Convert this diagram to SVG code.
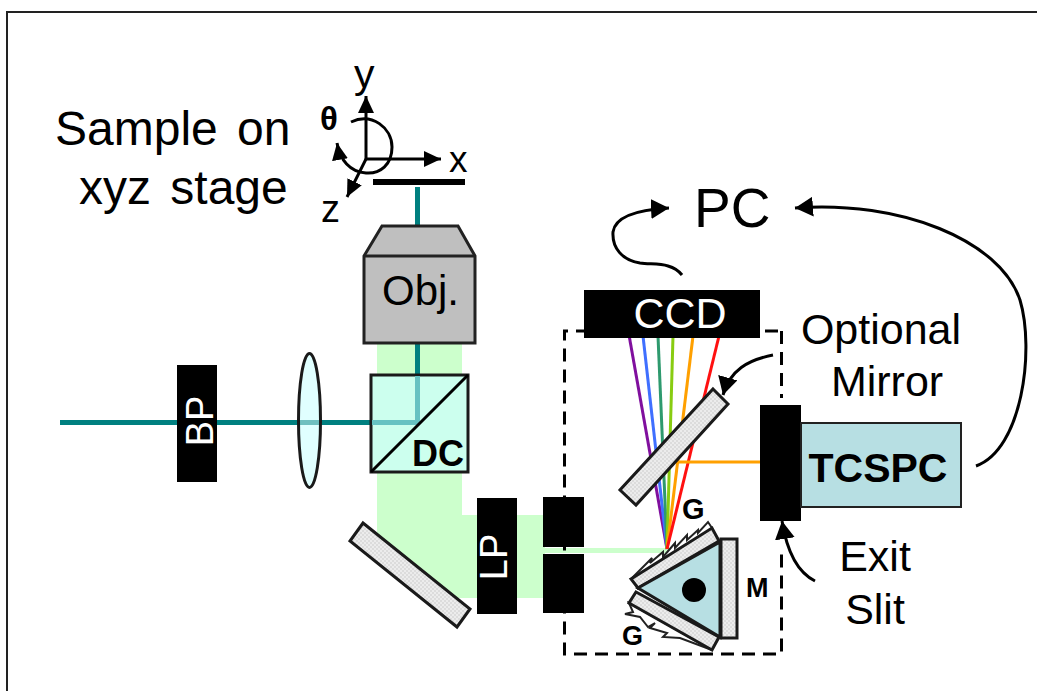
<svg xmlns="http://www.w3.org/2000/svg" width="1037" height="691" viewBox="0 0 1037 691">
<defs>
<pattern id="dots" width="4" height="4" patternUnits="userSpaceOnUse"><rect width="4" height="4" fill="#ececec"/><rect width="2" height="2" fill="#dcdcdc"/><rect x="2" y="2" width="2" height="2" fill="#dcdcdc"/></pattern>
<marker id="big" markerUnits="userSpaceOnUse" markerWidth="22" markerHeight="22" refX="18" refY="10" orient="auto"><path d="M0 0L18 10L0 20Z" fill="#000"/></marker>
<marker id="small" markerUnits="userSpaceOnUse" markerWidth="20" markerHeight="18" refX="17" refY="8" orient="auto"><path d="M0 0L17 8L0 16Z" fill="#000"/></marker>
</defs>
<style>
text{font-family:"Liberation Sans",Arial,sans-serif;fill:#000}
.lab{font-size:48px;word-spacing:6px}
.lab2{font-size:43px}
.b{font-weight:bold}
.mir{fill:url(#dots);stroke:#1a1a1a;stroke-width:3}
.blk{fill:#000}
.beam{stroke:#008080;stroke-width:5;fill:none}
.arr{fill:none;stroke:#000;stroke-width:3}
.ray{fill:none;stroke-width:3}
.teeth{fill:#fff;stroke:#222;stroke-width:2}
</style>
<rect width="1037" height="691" fill="#fff"/>
<path d="M7 691V12H1037" fill="none" stroke="#222" stroke-width="2"/>

<g id="green-beam">
<path d="M377 343H462V515H545V598H456L377 534Z" fill="#ccffcc"/>
<rect x="545" y="548" width="123" height="5" fill="#ccffcc"/>
</g>

<g id="connectors">
<path class="beam" d="M60 422.500H417.500V343"/>
<path class="beam" d="M417.500 187V226"/>
<path class="arr" d="M366 160V96" marker-end="url(#small)"/>
<path class="arr" d="M366 159H441" marker-end="url(#small)"/>
<path class="arr" d="M366 159L347 197" marker-end="url(#small)"/>
<path class="arr" d="M351 122C372 112 392 128 392 147C392 165 380 174 366 173C350 172 340 160 337 143" marker-end="url(#small)"/>
<path class="arr" d="M682 275C672 262 655 265 640 263C622 260 612 248 613 232C615 218 632 210 669 208" marker-end="url(#big)"/>
<path class="arr" d="M976 466C1022 450 1035 350 1020 300C1000 240 900 200 795 208" marker-end="url(#big)"/>
<path class="arr" d="M773 355C748 360 730 370 723 395" marker-end="url(#big)"/>
<path class="arr" d="M815 581C797 572 787 552 782 521" marker-end="url(#big)"/>
<path d="M778 331H564.500V654H781.500V553M781.500 331V398" fill="none" stroke="#000" stroke-width="3" stroke-dasharray="13 8"/>
</g>

<g id="rays">
<path class="ray" stroke="#800f9e" d="M629 335L667 549"/>
<path class="ray" stroke="#3f6fff" d="M643 336L667 549"/>
<path class="ray" stroke="#2e9a6e" d="M658 336L667 549"/>
<path class="ray" stroke="#88cc11" d="M673 336L667 549"/>
<path class="ray" stroke="#ffa000" d="M693 336L667 549"/>
<path class="ray" stroke="#ff1010" d="M719 336L667 549"/>
<path class="ray" stroke="#ffa000" d="M678 462H800"/>
</g>

<g id="sample"><rect x="373" y="179" width="92" height="6" fill="#000"/></g>

<g id="objective">
<path d="M364 256L382 226H458L475 256V343H364Z" fill="#bfbfbf" stroke="#222" stroke-width="3"/>
<path d="M364 256H475" stroke="#222" stroke-width="3"/>
<text x="382" y="305" style="font-size:42px">Obj.</text>
</g>

<g id="bp"><rect x="177" y="365" width="40" height="117" class="blk"/>
<text transform="translate(213 421) rotate(-90)" text-anchor="middle" style="font-size:38px;fill:#fff">BP</text></g>

<g id="lens"><ellipse cx="309.500" cy="420.500" rx="11" ry="67" fill="#e0ffff" stroke="#1a1a1a" stroke-width="3"/>
<path d="M300 422.500H319" stroke="#008080" stroke-width="5" opacity=".5"/></g>

<g id="dc">
<rect x="371" y="375" width="97" height="97" fill="#ccffee" stroke="#1a1a1a" stroke-width="3"/>
<path d="M372 422.500H417.500V376" fill="none" stroke="#66c2c2" stroke-width="5"/>
<path d="M371 472L468 375" stroke="#000" stroke-width="3"/>
<text x="438" y="466" text-anchor="middle" class="b" style="font-size:36px">DC</text>
</g>

<g id="mirror-left"><path class="mir" d="M363 523L470 609L457 627L350 541Z"/></g>

<g id="lp"><rect x="477" y="498" width="40" height="116" class="blk"/>
<text transform="translate(507 557) rotate(-90)" text-anchor="middle" style="font-size:38px;fill:#fff">LP</text></g>

<g id="slit-entrance"><rect x="543" y="497" width="41" height="50" class="blk"/><rect x="543" y="554" width="41" height="59" class="blk"/></g>

<g id="ccd"><rect x="584" y="290" width="176" height="48" class="blk"/>
<text x="680" y="328" text-anchor="middle" style="font-size:43px;fill:#fff">CCD</text></g>

<g id="optional-mirror"><path class="mir" d="M713 389L728 404L636 505L620 490Z"/></g>

<g id="exit-slit"><rect x="760" y="405" width="41" height="116" class="blk"/></g>

<g id="tcspc"><rect x="801" y="423" width="160" height="84" fill="#b7dfe3" stroke="#222" stroke-width="2"/>
<text x="878" y="482" text-anchor="middle" class="b" style="font-size:41px">TCSPC</text></g>

<g id="grating-assembly">
<path class="teeth" d="M632 578L652 558L650 563L663 552L663 557L675 543L675 548L687 535L687 540L698 530L698 533L708 522L712 528L638 588Z"/>
<path class="teeth" d="M629 603L633 612L625 614L640 617L648 627L655 623L650 628L667 633L663 637L680 638L712 650Z"/>
<rect x="721" y="539" width="16" height="99" class="mir"/>
<path class="mir" d="M631 579L712 528L719 541L638 588Z"/>
<path class="mir" d="M636 592L719 637L712 650L629 603Z"/>
<path d="M638 588L720 542V637Z" fill="#b7dfe3" stroke="#1a1a1a" stroke-width="3"/>
<circle cx="694" cy="590" r="12" fill="#000"/>
</g>

<g id="labels">
<text x="55" y="145" class="lab">Sample on</text>
<text x="79" y="204" class="lab">xyz stage</text>
<text x="354" y="88" style="font-size:41px">y</text>
<text x="449" y="172" style="font-size:37px">x</text>
<text x="321" y="222" style="font-size:38px">z</text>
<text x="320" y="130" class="b" style="font-size:33px">θ</text>
<text x="694" y="227" style="font-size:55px">PC</text>
<text x="881" y="344" text-anchor="middle" class="lab2">Optional</text>
<text x="887" y="396" text-anchor="middle" class="lab2">Mirror</text>
<text x="875" y="571" text-anchor="middle" class="lab2">Exit</text>
<text x="875" y="624" text-anchor="middle" class="lab2">Slit</text>
<text x="682" y="519" class="b" style="font-size:29px">G</text>
<text x="622" y="645" class="b" style="font-size:27px">G</text>
<text x="746" y="597" class="b" style="font-size:27px">M</text>
</g>
</svg>
